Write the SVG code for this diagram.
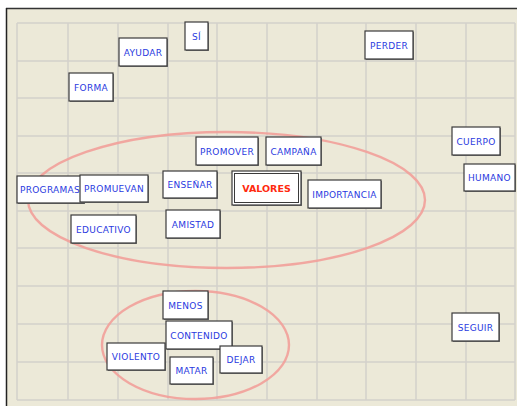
<svg xmlns="http://www.w3.org/2000/svg" width="517" height="406" viewBox="0 0 517 406">
<style>
.grid line{stroke:#d3d0cb;stroke-width:1.5}
.box{fill:#ffffff;stroke:#3a3a3a;stroke-width:1.2}
.sh{fill:#7a7a7a}
.t{font-family:"DejaVu Sans",Verdana,sans-serif;font-size:9px;fill:#2a3ae0;text-anchor:middle;letter-spacing:0.3px}
.tv{font-family:"DejaVu Sans",Verdana,sans-serif;font-size:9.5px;font-weight:bold;fill:#ff2a10;text-anchor:middle}
.cl{fill:none;stroke:#f2a09a;stroke-width:2.4;opacity:0.9}
</style>
<rect x="0" y="0" width="517" height="406" fill="#ffffff"/>
<rect x="6" y="8" width="511" height="398" fill="#ece9d8"/>
<g class="grid">
<line x1="17" y1="23" x2="17" y2="400"/><line x1="68" y1="23" x2="68" y2="400"/><line x1="118" y1="23" x2="118" y2="400"/><line x1="168" y1="23" x2="168" y2="400"/><line x1="217" y1="23" x2="217" y2="400"/><line x1="267" y1="23" x2="267" y2="400"/><line x1="317" y1="23" x2="317" y2="400"/><line x1="366" y1="23" x2="366" y2="400"/><line x1="416" y1="23" x2="416" y2="400"/><line x1="466" y1="23" x2="466" y2="400"/><line x1="515" y1="23" x2="515" y2="400"/>
<line x1="17" y1="23" x2="515" y2="23"/><line x1="17" y1="61" x2="515" y2="61"/><line x1="17" y1="98" x2="515" y2="98"/><line x1="17" y1="136" x2="515" y2="136"/><line x1="17" y1="173" x2="515" y2="173"/><line x1="17" y1="211" x2="515" y2="211"/><line x1="17" y1="248" x2="515" y2="248"/><line x1="17" y1="286" x2="515" y2="286"/><line x1="17" y1="324" x2="515" y2="324"/><line x1="17" y1="362" x2="515" y2="362"/><line x1="17" y1="400" x2="515" y2="400"/>
</g>
<line x1="6" y1="8.5" x2="517" y2="8.5" stroke="#333" stroke-width="1.5"/>
<line x1="6.5" y1="8" x2="6.5" y2="406" stroke="#222" stroke-width="1.5"/>
<g id="connectors">
<ellipse class="cl" cx="226.5" cy="200" rx="198.5" ry="68"/>
<ellipse class="cl" cx="195.5" cy="345" rx="93.5" ry="54"/>
</g>
<g id="n-si"><rect class="sh" x="186" y="23" width="23" height="28"/><rect class="box" x="185" y="22" width="23" height="28"/><text class="t" x="196.5" y="39.5">SÍ</text></g>
<g id="n-ayudar"><rect class="sh" x="120" y="39" width="48" height="28"/><rect class="box" x="119" y="38" width="48" height="28"/><text class="t" x="143" y="55.5">AYUDAR</text></g>
<g id="n-forma"><rect class="sh" x="70" y="74" width="44" height="28"/><rect class="box" x="69" y="73" width="44" height="28"/><text class="t" x="91" y="90.5">FORMA</text></g>
<g id="n-perder"><rect class="sh" x="366" y="32" width="48" height="28"/><rect class="box" x="365" y="31" width="48" height="28"/><text class="t" x="389" y="48.5">PERDER</text></g>
<g id="n-cuerpo"><rect class="sh" x="453" y="128" width="48" height="28"/><rect class="box" x="452" y="127" width="48" height="28"/><text class="t" x="476" y="144.5">CUERPO</text></g>
<g id="n-humano"><rect class="sh" x="465" y="165" width="51" height="27"/><rect class="box" x="464" y="164" width="51" height="27"/><text class="t" x="489.5" y="181">HUMANO</text></g>
<g id="n-promover"><rect class="sh" x="197" y="138" width="62" height="28"/><rect class="box" x="196" y="137" width="62" height="28"/><text class="t" x="227" y="154.5">PROMOVER</text></g>
<g id="n-campana"><rect class="sh" x="267" y="138" width="55" height="28"/><rect class="box" x="266" y="137" width="55" height="28"/><text class="t" x="293.5" y="154.5">CAMPAÑA</text></g>
<g id="n-programas"><rect class="sh" x="18" y="177" width="67" height="27"/><rect class="box" x="17" y="176" width="67" height="27"/><text class="t" x="50" y="192.5">PROGRAMAS</text></g>
<g id="n-promuevan"><rect class="sh" x="81" y="176" width="68" height="27"/><rect class="box" x="80" y="175" width="68" height="27"/><text class="t" x="114" y="191.5">PROMUEVAN</text></g>
<g id="n-ensenar"><rect class="sh" x="164" y="172" width="54" height="27"/><rect class="box" x="163" y="171" width="54" height="27"/><text class="t" x="190" y="187.5">ENSEÑAR</text></g>
<g id="n-valores"><rect class="sh" x="233" y="172" width="69" height="34"/><rect class="box" x="232" y="171" width="69" height="34"/><rect x="234.5" y="173.5" width="64" height="29" fill="none" stroke="#3a3a3a" stroke-width="1"/><text class="tv" x="266.5" y="191.5">VALORES</text></g>
<g id="n-importancia"><rect class="sh" x="309" y="181" width="73" height="28"/><rect class="box" x="308" y="180" width="73" height="28"/><text class="t" x="344.5" y="197.5">IMPORTANCIA</text></g>
<g id="n-educativo"><rect class="sh" x="72" y="216" width="65" height="28"/><rect class="box" x="71" y="215" width="65" height="28"/><text class="t" x="103.5" y="232.5">EDUCATIVO</text></g>
<g id="n-amistad"><rect class="sh" x="167" y="211" width="54" height="28"/><rect class="box" x="166" y="210" width="54" height="28"/><text class="t" x="193" y="227.5">AMISTAD</text></g>
<g id="n-menos"><rect class="sh" x="164" y="292" width="45" height="28"/><rect class="box" x="163" y="291" width="45" height="28"/><text class="t" x="185.5" y="308.5">MENOS</text></g>
<g id="n-contenido"><rect class="sh" x="167" y="322" width="66" height="28"/><rect class="box" x="166" y="321" width="66" height="28"/><text class="t" x="199" y="338.5">CONTENIDO</text></g>
<g id="n-violento"><rect class="sh" x="108" y="344" width="58" height="27"/><rect class="box" x="107" y="343" width="58" height="27"/><text class="t" x="136" y="359.5">VIOLENTO</text></g>
<g id="n-dejar"><rect class="sh" x="221" y="347" width="42" height="27"/><rect class="box" x="220" y="346" width="42" height="27"/><text class="t" x="241" y="362.5">DEJAR</text></g>
<g id="n-matar"><rect class="sh" x="171" y="358" width="43" height="27"/><rect class="box" x="170" y="357" width="43" height="27"/><text class="t" x="191.5" y="373.5">MATAR</text></g>
<g id="n-seguir"><rect class="sh" x="453" y="314" width="47" height="28"/><rect class="box" x="452" y="313" width="47" height="28"/><text class="t" x="475.5" y="330.5">SEGUIR</text></g>
</svg>
